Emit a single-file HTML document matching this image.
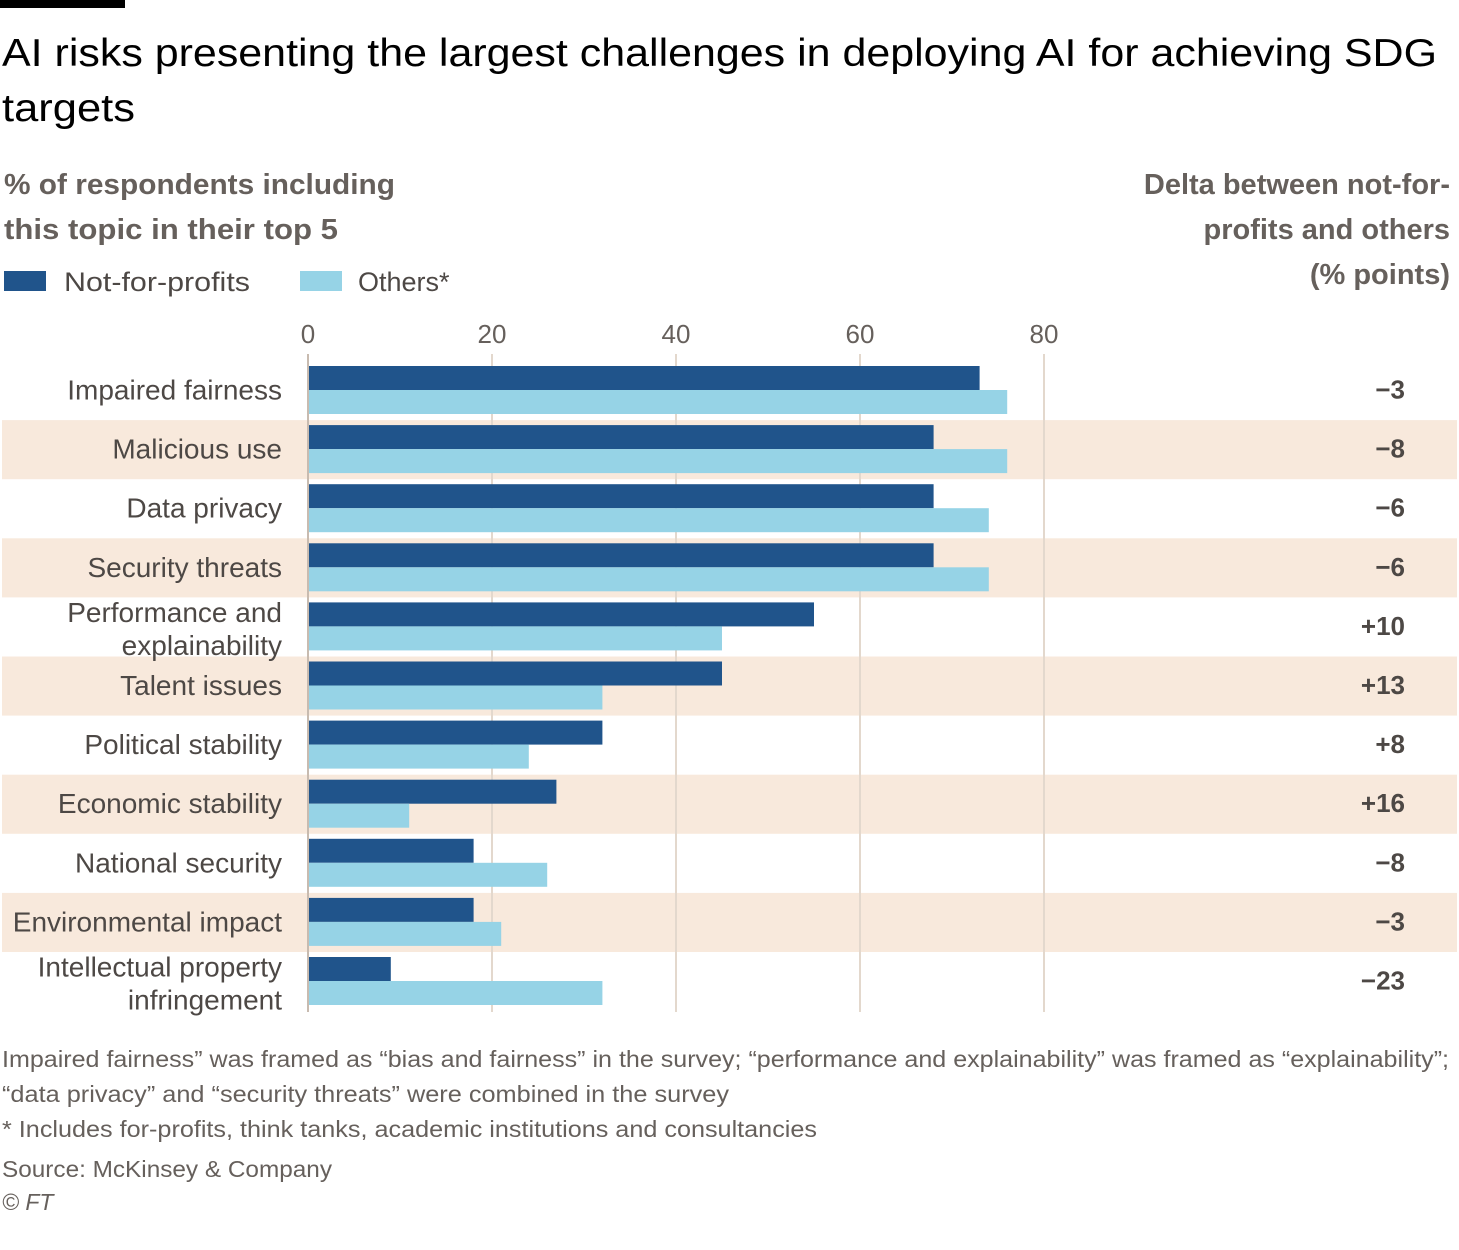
<!DOCTYPE html>
<html><head><meta charset="utf-8"><style>
body{margin:0;background:#fff;width:1459px;height:1245px;overflow:hidden;font-family:"Liberation Sans",sans-serif}
text{font-family:"Liberation Sans",sans-serif}
</style></head><body>
<svg id="chart" width="1459" height="1245" xmlns="http://www.w3.org/2000/svg">
<rect x="0" y="0" width="125" height="8" fill="#000"/>
<text x="2" y="66" font-size="39" fill="#000" textLength="1435" lengthAdjust="spacingAndGlyphs">AI risks presenting the largest challenges in deploying AI for achieving SDG</text>
<text x="2" y="121" font-size="39" fill="#000" textLength="133" lengthAdjust="spacingAndGlyphs">targets</text>
<text x="4" y="194" font-size="29" font-weight="bold" fill="#66605c" textLength="391" lengthAdjust="spacingAndGlyphs">% of respondents including</text>
<text x="4" y="239" font-size="29" font-weight="bold" fill="#66605c" textLength="334" lengthAdjust="spacingAndGlyphs">this topic in their top 5</text>
<text text-anchor="end" font-size="29" font-weight="bold" fill="#66605c"><tspan x="1450" y="194">Delta between not-for-</tspan><tspan x="1450" y="239">profits and others</tspan><tspan x="1450" y="284">(% points)</tspan></text>
<rect x="4" y="271" width="42" height="20" fill="#20548b"/>
<text x="64" y="291" font-size="27" fill="#4d4845" textLength="186" lengthAdjust="spacingAndGlyphs">Not-for-profits</text>
<rect x="300" y="271" width="42" height="20" fill="#96d3e6"/>
<text x="358" y="291" font-size="27" fill="#4d4845">Others*</text>
<g id="plot"></g>
<g font-size="23" fill="#66605c">
<text x="2" y="1067" textLength="1447" lengthAdjust="spacingAndGlyphs">Impaired fairness” was framed as “bias and fairness” in the survey; “performance and explainability” was framed as “explainability”;</text>
<text x="2" y="1102" textLength="727" lengthAdjust="spacingAndGlyphs">“data privacy” and “security threats” were combined in the survey</text>
<text x="2" y="1137" textLength="815" lengthAdjust="spacingAndGlyphs">* Includes for-profits, think tanks, academic institutions and consultancies</text>
<text x="2" y="1177" textLength="330" lengthAdjust="spacingAndGlyphs">Source: McKinsey &amp; Company</text>
<text x="2" y="1210" font-style="italic">© FT</text>
</g>
</svg>
<script>
const categories=[["Impaired fairness"],["Malicious use"],["Data privacy"],["Security threats"],["Performance and","explainability"],["Talent issues"],["Political stability"],["Economic stability"],["National security"],["Environmental impact"],["Intellectual property","infringement"]];
const nfpValues=[73,68,68,68,55,45,32,27,18,18,9];
const otherValues=[76,76,74,74,45,32,24,11,26,21,32];
const deltaLabels=["−3","−8","−6","−6","+10","+13","+8","+16","−8","−3","−23"];
const ticks=[0,20,40,60,80];
const NS="http://www.w3.org/2000/svg";
const g=document.getElementById('plot');
const x=v=>308+v*9.2;
const rowTop=i=>361+i*59.1;
function mk(t,a){const e=document.createElementNS(NS,t);for(const k in a)e.setAttribute(k,a[k]);g.appendChild(e);return e;}
categories.forEach((c,i)=>{if(i%2===1){const b=mk('rect',{x:2,y:rowTop(i),width:1455,height:59.1,fill:'#f8e9dc'});

}});
ticks.forEach(t=>{const l=mk('line',{x1:x(t),x2:x(t),y1:354,y2:1012,stroke:t===0?'#c8bbb0':'#e3d8cd','stroke-width':2});


const tx=mk('text',{x:x(t),y:343,'text-anchor':'middle','font-size':26,fill:'#66605c'});tx.textContent=t;

});
categories.forEach((c,i)=>{const y0=rowTop(i)+5;
const b1=mk('rect',{x:309,y:y0,width:x(nfpValues[i])-309,height:24,fill:'#20548b'});


const b2=mk('rect',{x:309,y:y0+24,width:x(otherValues[i])-309,height:24,fill:'#96d3e6'});


const lab=mk('text',{'text-anchor':'end','font-size':28,fill:'#4d4845'});


const cy=rowTop(i)+29.5;
c.forEach((s,j)=>{const ts=document.createElementNS(NS,'tspan');ts.setAttribute('x',282);
ts.setAttribute('y',c.length===1?cy+9:cy-5+j*33);ts.textContent=s;lab.appendChild(ts);});
const d=mk('text',{x:1405,y:cy+8,'text-anchor':'end','font-size':26,'font-weight':'bold',fill:'#4d4845'});d.textContent=deltaLabels[i];

});
</script>
</body></html>
